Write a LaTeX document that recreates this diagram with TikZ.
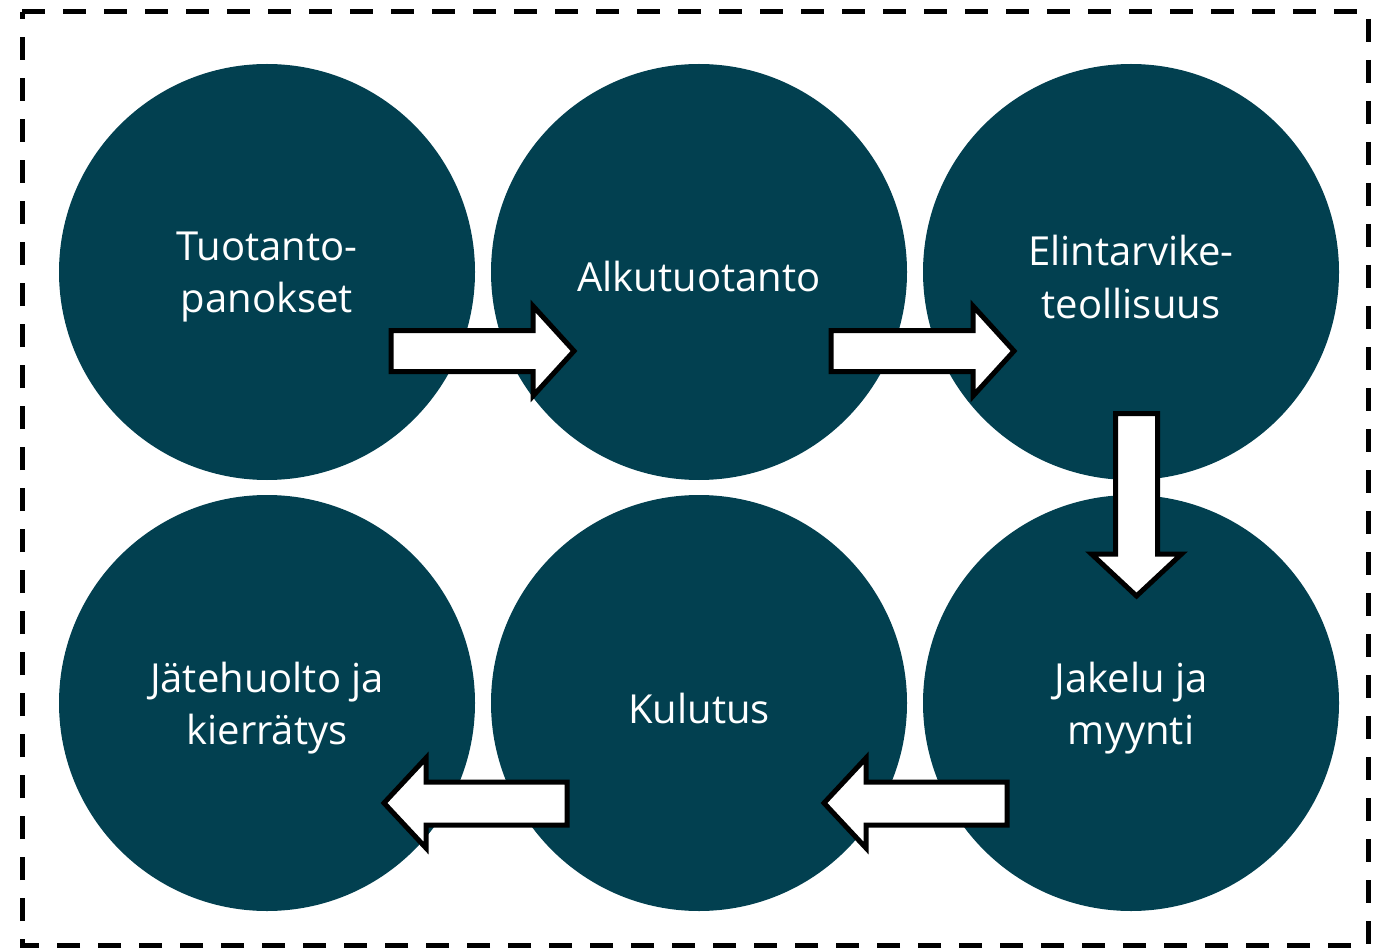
\documentclass[tikz,border=0pt]{standalone}
\usepackage{fontspec}
\setmainfont{Open Sans}
\definecolor{teal}{RGB}{2,64,80}
\begin{document}
\begin{tikzpicture}[x=1pt,y=-1pt,
  stage/.style={circle,fill=teal,minimum size=416pt,inner sep=0pt,text=white,
    align=center,font=\fontsize{40}{52}\selectfont},
  lbl/.style={text=white,align=center,font=\fontsize{40}{52}\selectfont,yshift=-5pt},
  blockarrow/.style={draw=black,line width=5pt,fill=white,line join=miter,miter limit=10}]
\useasboundingbox (0,0) rectangle (1380,949);
\draw[line width=5pt,dash pattern=on 23pt off 18pt] (22,12) -- (1368,12) -- (1368,945) -- (22,945) -- cycle;
\node[stage] (tp) at (267,272) {};
\node[stage] (at) at (699,272) {};
\node[stage] (et) at (1131,272) {};
\node[stage] (jm) at (1131,703) {};
\node[stage] (ku) at (699,703) {};
\node[stage] (jk) at (267,703) {};
\node[lbl] (tpl) at (tp.center) {Tuotanto-\\panokset};
\node[lbl] (atl) at (at.center) {Alkutuotanto};
\node[lbl] (etl) at (et.center) {Elintarvike-\\teollisuus};
\node[lbl] (jml) at (jm.center) {Jakelu ja\\myynti};
\node[lbl] (kul) at (ku.center) {Kulutus};
\node[lbl] (jkl) at (jk.center) {Jätehuolto ja\\kierrätys};
% right arrows
\draw[blockarrow] (391,330.5) -- (533,330.5) -- (533,306) -- (574,351) -- (533,396) -- (533,371.5) -- (391,371.5) -- cycle;
\draw[blockarrow] (831,330.5) -- (973,330.5) -- (973,306) -- (1014,351) -- (973,396) -- (973,371.5) -- (831,371.5) -- cycle;
% down arrow
\draw[blockarrow] (1115.5,413.5) -- (1157.5,413.5) -- (1157.5,554) -- (1181.5,554) -- (1136.5,596) -- (1091.5,554) -- (1115.5,554) -- cycle;
% left arrows
\draw[blockarrow] (567,782) -- (426,782) -- (426,758) -- (384,803) -- (426,848) -- (426,825) -- (567,825) -- cycle;
\draw[blockarrow] (1007,782) -- (866,782) -- (866,758) -- (824,803) -- (866,848) -- (866,825) -- (1007,825) -- cycle;
\end{tikzpicture}
\end{document}
